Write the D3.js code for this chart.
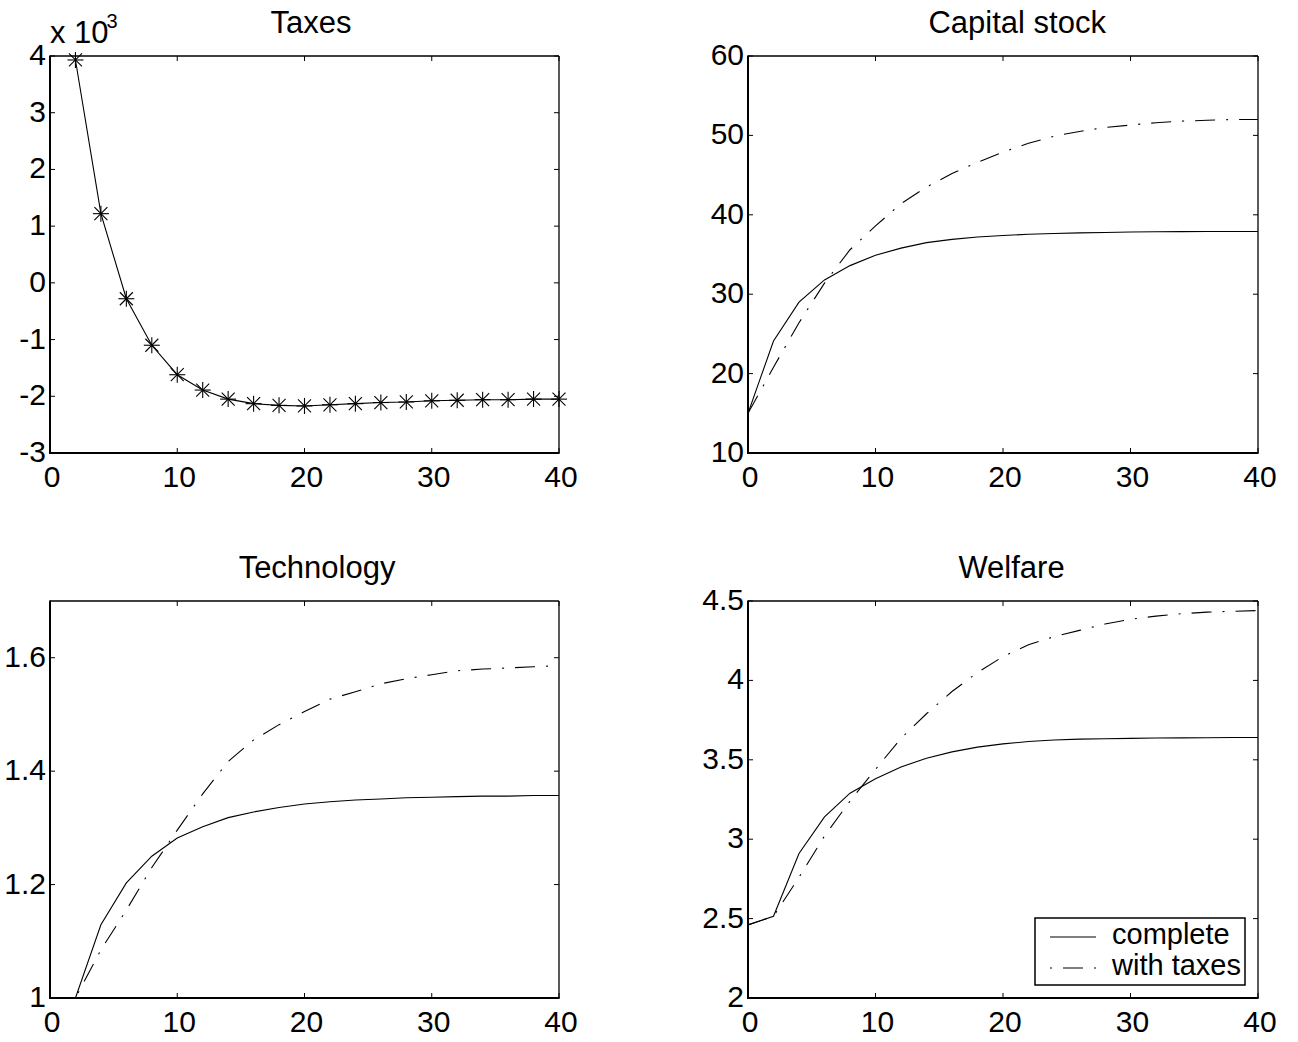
<!DOCTYPE html>
<html><head><meta charset="utf-8">
<script src="https://cdn.jsdelivr.net/npm/d3@7"></script>
<style>
body{margin:0;background:#fff}
text{font-family:"Liberation Sans",Arial,Helvetica,sans-serif;fill:#000}
</style>
</head><body>
<svg id="c" width="1298" height="1042"></svg>
<script>
// ---------- data ----------
const periods = [0,2,4,6,8,10,12,14,16,18,20,22,24,26,28,30,32,34,36,38,40];
const taxPeriods = [2,4,6,8,10,12,14,16,18,20,22,24,26,28,30,32,34,36,38,40];
const taxValues = [3.93,1.22,-0.28,-1.1,-1.62,-1.89,-2.05,-2.13,-2.16,-2.17,-2.15,-2.13,-2.11,-2.1,-2.08,-2.07,-2.06,-2.06,-2.05,-2.05];
const capitalComplete = [15,24.1,29.0,31.8,33.6,34.9,35.8,36.5,36.9,37.2,37.4,37.55,37.65,37.72,37.78,37.83,37.86,37.88,37.9,37.9,37.9];
const capitalTaxes = [15,20.8,26.4,31.4,35.6,38.6,41.4,43.5,45.2,46.6,47.9,49.0,49.9,50.5,51.0,51.3,51.6,51.8,51.9,52.0,52.0];
const techComplete = [1.0,1.0,1.129,1.203,1.25,1.282,1.302,1.318,1.328,1.336,1.342,1.346,1.349,1.351,1.353,1.354,1.355,1.356,1.356,1.357,1.357];
const techTaxes = [1.0,1.0,1.085,1.155,1.23,1.296,1.36,1.417,1.455,1.482,1.505,1.527,1.54,1.554,1.563,1.57,1.577,1.58,1.582,1.584,1.586];
const welfareComplete = [2.46,2.515,2.91,3.14,3.29,3.38,3.455,3.51,3.55,3.58,3.60,3.615,3.625,3.63,3.633,3.635,3.637,3.638,3.639,3.64,3.64];
const welfareTaxes = [2.46,2.515,2.76,3.02,3.24,3.44,3.635,3.79,3.93,4.05,4.15,4.225,4.275,4.315,4.355,4.385,4.405,4.42,4.43,4.435,4.44];
const xTicks = [0,10,20,30,40];
const taxesTicks = [-3,-2,-1,0,1,2,3,4];
const capitalTicks = [10,20,30,40,50,60];
const techTicks = [1,1.2,1.4,1.6];
const welfareTicks = [2,2.5,3,3.5,4,4.5];
const titles = ["Taxes","Capital stock","Technology","Welfare"];
const legendLabels = ["complete","with taxes"];
const scaleNote = ["x 10","3"];

// ---------- layout ----------
const svg = d3.select("#c");
const DASHDOT = "20,11,2,11";
const panels = [
  {title:titles[0], l:50, r:559, t:56, b:453, dom:[-3,4], ticks:taxesTicks,
   series:[{x:taxPeriods, y:taxValues, dash:null, marker:true}]},
  {title:titles[1], l:748, r:1258, t:56, b:453, dom:[10,60], ticks:capitalTicks,
   series:[{x:periods,y:capitalComplete,dash:null},{x:periods,y:capitalTaxes,dash:DASHDOT}]},
  {title:titles[2], l:50, r:559, t:601, b:998, dom:[1,1.7], ticks:techTicks,
   series:[{x:periods,y:techComplete,dash:null},{x:periods,y:techTaxes,dash:DASHDOT}]},
  {title:titles[3], l:748, r:1258, t:601, b:998, dom:[2,4.5], ticks:welfareTicks,
   series:[{x:periods,y:welfareComplete,dash:null},{x:periods,y:welfareTaxes,dash:DASHDOT}], legend:true}
];

panels.forEach((p,i)=>{
  const x = d3.scaleLinear().domain([0,40]).range([p.l,p.r]);
  const y = d3.scaleLinear().domain(p.dom).range([p.b,p.t]);
  const g = svg.append("g");
  const cid = "clip"+i;
  svg.append("clipPath").attr("id",cid).append("rect")
    .attr("x",p.l).attr("y",p.t).attr("width",p.r-p.l).attr("height",p.b-p.t);

  const tl = 5;
  xTicks.forEach(v=>{
    g.append("line").attr("x1",x(v)).attr("x2",x(v)).attr("y1",p.b).attr("y2",p.b-tl).attr("stroke","#000").attr("stroke-width",1);
    g.append("line").attr("x1",x(v)).attr("x2",x(v)).attr("y1",p.t).attr("y2",p.t+tl).attr("stroke","#000").attr("stroke-width",1);
    g.append("text").attr("x",x(v)+2).attr("y",p.b+34).attr("text-anchor","middle")
      .attr("font-size",30).text(String(v));
  });
  p.ticks.forEach(v=>{
    g.append("line").attr("x1",p.l).attr("x2",p.l+tl).attr("y1",y(v)).attr("y2",y(v)).attr("stroke","#000").attr("stroke-width",1);
    g.append("line").attr("x1",p.r).attr("x2",p.r-tl).attr("y1",y(v)).attr("y2",y(v)).attr("stroke","#000").attr("stroke-width",1);
    g.append("text").attr("x",p.l-4).attr("y",y(v)+9).attr("text-anchor","end")
      .attr("font-size",30).text(String(v));
  });

  const line = d3.line().x(d=>x(d[0])).y(d=>y(d[1]));
  p.series.forEach(s=>{
    const pts = s.x.map((xv,k)=>[xv,s.y[k]]);
    const path = g.append("path").attr("d",line(pts)).attr("fill","none")
      .attr("stroke","#000").attr("stroke-width",1.1).attr("clip-path",`url(#${cid})`);
    if(s.dash) path.attr("stroke-dasharray",s.dash);
    if(s.marker){
      pts.forEach(d=>{
        const cx=x(d[0]), cy=y(d[1]), r=8, rd=6.5;
        const m = g.append("g").attr("stroke","#000").attr("stroke-width",1.1);
        m.append("line").attr("x1",cx).attr("x2",cx).attr("y1",cy-r).attr("y2",cy+r);
        m.append("line").attr("x1",cx-r).attr("x2",cx+r).attr("y1",cy).attr("y2",cy);
        m.append("line").attr("x1",cx-rd).attr("x2",cx+rd).attr("y1",cy-rd).attr("y2",cy+rd);
        m.append("line").attr("x1",cx-rd).attr("x2",cx+rd).attr("y1",cy+rd).attr("y2",cy-rd);
      });
    }
  });

  g.append("line").attr("x1",p.l).attr("x2",p.r).attr("y1",p.t).attr("y2",p.t).attr("stroke","#000").attr("stroke-width",1.3);
  g.append("line").attr("x1",p.r).attr("x2",p.r).attr("y1",p.t).attr("y2",p.b).attr("stroke","#000").attr("stroke-width",1.3);
  g.append("line").attr("x1",p.l-1).attr("x2",p.r+0.6).attr("y1",p.b).attr("y2",p.b).attr("stroke","#000").attr("stroke-width",2);
  g.append("line").attr("x1",p.l).attr("x2",p.l).attr("y1",p.t-0.6).attr("y2",p.b+1).attr("stroke","#000").attr("stroke-width",2);

  const tt = g.append("text").attr("y",p.t-23).attr("text-anchor","middle")
    .attr("font-size",31).text(p.title);
  const w = tt.node().getComputedTextLength();
  tt.attr("x",(p.l+p.r)/2 + 0.08*w);

  if(i===0){
    const n = g.append("text").attr("x",p.l).attr("y",p.t-13).attr("font-size",31);
    n.append("tspan").text(scaleNote[0]);
    n.append("tspan").attr("font-size",20).attr("dy",-15).attr("dx",-2).text(scaleNote[1]);
  }

  if(p.legend){
    const lg = g.append("g");
    lg.append("rect").attr("x",1035).attr("y",918).attr("width",210).attr("height",67)
      .attr("fill","#fff").attr("stroke","#000").attr("stroke-width",1.5);
    const rows = [{dash:null, yy:937, ty:944},{dash:"2,11,20,11", yy:968, ty:975}];
    rows.forEach((r,k)=>{
      const ln = lg.append("line").attr("x1",1050).attr("x2",1096).attr("y1",r.yy).attr("y2",r.yy)
        .attr("stroke","#000").attr("stroke-width",1.1);
      if(r.dash) ln.attr("stroke-dasharray",r.dash);
      lg.append("text").attr("x",1112).attr("y",r.ty).attr("font-size",29).text(legendLabels[k]);
    });
  }
});
</script>
</body></html>
